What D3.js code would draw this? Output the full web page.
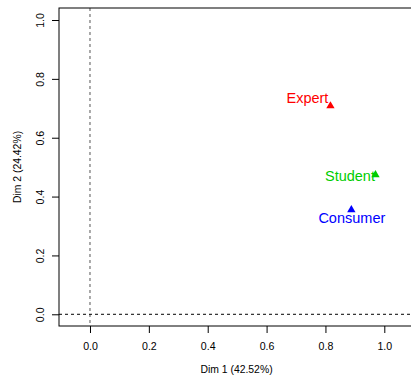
<!DOCTYPE html>
<html>
<head>
<meta charset="utf-8">
<script src="https://cdn.jsdelivr.net/npm/d3@7"></script>
<style>
  html, body { margin: 0; padding: 0; background: #fff; }
  svg { display: block; font-family: "Liberation Sans", Arial, sans-serif; }
</style>
</head>
<body>
<svg id="chart" width="411" height="375"></svg>
<script>
// Row coordinates on the first two dimensions
const categories = ["Expert", "Student", "Consumer"];
const dim1 = [0.817, 0.970, 0.888];
const dim2 = [0.708, 0.474, 0.355];
const colors = ["#FF0000", "#00CD00", "#0000FF"];

const xTicks = [0.0, 0.2, 0.4, 0.6, 0.8, 1.0];
const yTicks = [0.0, 0.2, 0.4, 0.6, 0.8, 1.0];
const xTitle = "Dim 1 (42.52%)";
const yTitle = "Dim 2 (24.42%)";

// label placement relative to each point (pixels)
const labelOffsets = [[-23, -7.5], [-25.5, 1], [0.5, 8]];

const svg = d3.select("#chart");
const box = { left: 59, top: 8, right: 414, bottom: 326 };

const x = d3.scaleLinear().domain([-0.1053, 1.1009]).range([box.left, box.right]);
const y = d3.scaleLinear().domain([-0.0398, 1.0408]).range([box.bottom, box.top]);

// reference lines through the origin
svg.append("line")
  .attr("x1", x(0)).attr("x2", x(0))
  .attr("y1", box.top).attr("y2", box.bottom)
  .attr("stroke", "#555").attr("stroke-width", 1)
  .attr("stroke-dasharray", "3,3");
svg.append("line")
  .attr("x1", box.left).attr("x2", box.right)
  .attr("y1", y(0)).attr("y2", y(0))
  .attr("stroke", "#000").attr("stroke-width", 1)
  .attr("stroke-dasharray", "3,3");

// plot frame
svg.append("rect")
  .attr("x", box.left).attr("y", box.top)
  .attr("width", box.right - box.left).attr("height", box.bottom - box.top)
  .attr("fill", "none").attr("stroke", "#000").attr("stroke-width", 1);

// x axis
const xAxis = svg.append("g")
  .attr("transform", `translate(0,${box.bottom})`)
  .call(d3.axisBottom(x).tickValues(xTicks).tickFormat(d3.format(".1f")).tickSize(7).tickPadding(9));
xAxis.select(".domain").remove();
xAxis.selectAll("text").attr("font-size", "10.6px").attr("fill", "#000")
  .attr("font-family", "Liberation Sans, Arial, sans-serif");
xAxis.selectAll("line").attr("stroke", "#000");

// y axis
const yAxis = svg.append("g")
  .attr("transform", `translate(${box.left},0)`)
  .call(d3.axisLeft(y).tickValues(yTicks).tickFormat(d3.format(".1f")).tickSize(7));
yAxis.select(".domain").remove();
yAxis.selectAll("line").attr("stroke", "#000");
yAxis.selectAll("text")
  .attr("font-size", "10.6px").attr("fill", "#000")
  .attr("font-family", "Liberation Sans, Arial, sans-serif")
  .attr("x", null).attr("dy", null)
  .attr("text-anchor", "middle")
  .attr("dominant-baseline", "central")
  .attr("transform", "translate(-19,0) rotate(-90)");

// axis titles
svg.append("text")
  .attr("x", (box.left + box.right) / 2).attr("y", 369)
  .attr("text-anchor", "middle").attr("dominant-baseline", "central")
  .attr("font-size", "10.4px").text(xTitle);
svg.append("text")
  .attr("transform", `translate(17,${(box.top + box.bottom) / 2}) rotate(-90)`)
  .attr("text-anchor", "middle").attr("dominant-baseline", "central")
  .attr("font-size", "10.4px").text(yTitle);

// points
const rows = categories.map((c, i) => ({ name: c, d1: dim1[i], d2: dim2[i], color: colors[i], off: labelOffsets[i] }));
const tri = d3.symbol().type(d3.symbolTriangle).size(30);

svg.append("g").selectAll("path").data(rows).join("path")
  .attr("d", tri)
  .attr("transform", d => `translate(${x(d.d1)},${y(d.d2)})`)
  .attr("fill", d => d.color);

svg.append("g").selectAll("text").data(rows).join("text")
  .attr("x", d => x(d.d1) + d.off[0])
  .attr("y", d => y(d.d2) + d.off[1])
  .attr("text-anchor", "middle").attr("dominant-baseline", "central")
  .attr("font-size", "14.5px")
  .attr("fill", d => d.color)
  .text(d => d.name);
</script>
</body>
</html>
